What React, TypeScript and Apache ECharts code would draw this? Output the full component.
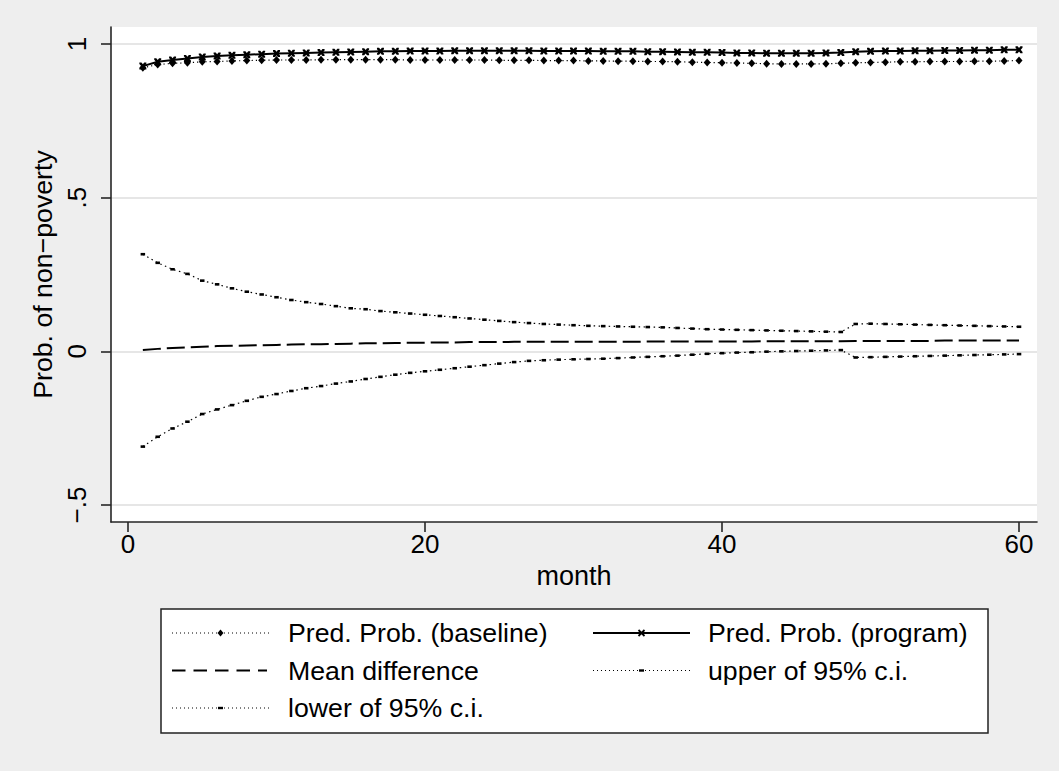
import React, { useEffect, useRef } from "react";
import * as echarts from "echarts";

const months = [
  1, 2, 3, 4, 5, 6, 7, 8, 9, 10, 11, 12, 13, 14, 15, 16, 17, 18, 19, 20,
  21, 22, 23, 24, 25, 26, 27, 28, 29, 30, 31, 32, 33, 34, 35, 36, 37, 38, 39, 40,
  41, 42, 43, 44, 45, 46, 47, 48, 49, 50, 51, 52, 53, 54, 55, 56, 57, 58, 59, 60,
];

const baseline = [
  0.923, 0.933, 0.937, 0.939, 0.942, 0.943, 0.945, 0.946, 0.947, 0.948,
  0.948, 0.948, 0.949, 0.949, 0.949, 0.949, 0.949, 0.949, 0.948, 0.948,
  0.948, 0.948, 0.948, 0.948, 0.947, 0.947, 0.947, 0.946, 0.946, 0.946,
  0.945, 0.945, 0.944, 0.944, 0.943, 0.943, 0.942, 0.941, 0.94, 0.939,
  0.938, 0.937, 0.936, 0.935, 0.935, 0.935, 0.936, 0.937, 0.939, 0.94,
  0.941, 0.942, 0.942, 0.943, 0.943, 0.943, 0.944, 0.944, 0.945, 0.946,
];

const program = [
  0.928, 0.942, 0.948, 0.953, 0.958, 0.961, 0.963, 0.965, 0.967, 0.969,
  0.97, 0.971, 0.972, 0.973, 0.974, 0.975, 0.976, 0.976, 0.977, 0.977,
  0.977, 0.978, 0.978, 0.978, 0.978, 0.978, 0.978, 0.977, 0.977, 0.977,
  0.977, 0.976, 0.976, 0.976, 0.975, 0.975, 0.974, 0.973, 0.973, 0.972,
  0.971, 0.971, 0.97, 0.97, 0.97, 0.97, 0.971, 0.972, 0.975, 0.976,
  0.977, 0.977, 0.978, 0.978, 0.979, 0.979, 0.98, 0.98, 0.981, 0.981,
];

const meanDiff = [
  0.004, 0.008, 0.011, 0.013, 0.015, 0.017, 0.018, 0.019, 0.02, 0.021,
  0.022, 0.023, 0.023, 0.024, 0.025, 0.026, 0.026, 0.027, 0.028, 0.028,
  0.029, 0.029, 0.03, 0.03, 0.03, 0.031, 0.031, 0.031, 0.031, 0.031,
  0.031, 0.031, 0.031, 0.031, 0.032, 0.032, 0.032, 0.032, 0.032, 0.032,
  0.032, 0.032, 0.033, 0.033, 0.033, 0.033, 0.033, 0.033, 0.034, 0.034,
  0.034, 0.034, 0.034, 0.034, 0.035, 0.035, 0.035, 0.035, 0.035, 0.035,
];

const upperCI = [
  0.316, 0.288, 0.267, 0.252, 0.23, 0.218, 0.205, 0.194, 0.185, 0.176,
  0.167, 0.16, 0.154, 0.147, 0.14, 0.137, 0.131, 0.127, 0.123, 0.119,
  0.115, 0.111, 0.107, 0.103, 0.099, 0.095, 0.092, 0.089, 0.087, 0.085,
  0.083, 0.082, 0.081, 0.08, 0.079, 0.078, 0.076, 0.074, 0.072, 0.071,
  0.07, 0.069, 0.068, 0.067, 0.066, 0.065, 0.064, 0.063, 0.089, 0.09,
  0.089, 0.088, 0.087, 0.086, 0.085, 0.084, 0.083, 0.082, 0.081, 0.08,
];

const lowerCI = [
  -0.31, -0.278, -0.251, -0.229, -0.204, -0.189, -0.175, -0.161, -0.148, -0.139,
  -0.129, -0.12, -0.113, -0.105, -0.098, -0.09, -0.083, -0.076, -0.07, -0.065,
  -0.06, -0.055, -0.05, -0.045, -0.04, -0.035, -0.031, -0.029, -0.027, -0.026,
  -0.025, -0.024, -0.022, -0.02, -0.018, -0.016, -0.014, -0.011, -0.008, -0.006,
  -0.004, -0.003, -0.001, 0.0, 0.001, 0.002, 0.003, 0.004, -0.02, -0.019,
  -0.018, -0.017, -0.016, -0.015, -0.014, -0.013, -0.012, -0.011, -0.01, -0.009,
];

const yTicks = [-0.5, 0, 0.5, 1];
const xTicks = [0, 20, 40, 60];
const seriesNames = [
  "Pred. Prob. (baseline)",
  "Pred. Prob. (program)",
  "Mean difference",
  "upper of 95% c.i.",
  "lower of 95% c.i.",
];

const FONT = "'Liberation Sans', Arial, Helvetica, sans-serif";
const X_SYMBOL =
  "path://M0,0L3,0L5,2.5L7,0L10,0L10,2L7.5,5L10,8L10,10L7,10L5,7.5L3,10L0,10L0,8L2.5,5L0,2Z";

const pairs = (vals: number[]) => months.map((m, i) => [m, vals[i]]);

function yLabel(v: number): string {
  if (v === 0) return "0";
  const s = String(Math.abs(v)).replace(/^0\./, ".");
  return (v < 0 ? "\u2212" : "") + s;
}

export default function App() {
  const ref = useRef<HTMLDivElement>(null);

  useEffect(() => {
    document.body.style.margin = "0";
    if (!ref.current) return;
    const chart = echarts.init(ref.current, undefined, { renderer: "svg" });

    const legendRows = [633, 670.5, 708];
    const lx1 = [172, 593];
    const lw = 97;
    const tx = [288, 708];
    const legendText = (t: string, x: number, y: number) => ({
      type: "text",
      x,
      y,
      style: {
        text: t,
        fontSize: 26.7,
        fontFamily: FONT,
        fill: "#000",
        verticalAlign: "middle",
        textVerticalAlign: "middle",
      },
    });
    const dotLine = (x: number, y: number) => ({
      type: "line",
      shape: { x1: x, y1: y, x2: x + lw, y2: y },
      style: { stroke: "#000", lineWidth: 1, lineDash: [1, 3] },
    });

    const graphic: any[] = [
      {
        type: "rect",
        shape: { x: 161, y: 609, width: 827, height: 124 },
        style: { fill: "#fff", stroke: "#222", lineWidth: 1.5 },
      },
      // baseline
      dotLine(lx1[0], legendRows[0]),
      {
        type: "polygon",
        shape: {
          points: [
            [lx1[0] + lw / 2, legendRows[0] - 3.5],
            [lx1[0] + lw / 2 + 3, legendRows[0]],
            [lx1[0] + lw / 2, legendRows[0] + 3.5],
            [lx1[0] + lw / 2 - 3, legendRows[0]],
          ],
        },
        style: { fill: "#000" },
      },
      legendText(seriesNames[0], tx[0], legendRows[0]),
      // program
      {
        type: "line",
        shape: { x1: lx1[1], y1: legendRows[0], x2: lx1[1] + lw, y2: legendRows[0] },
        style: { stroke: "#000", lineWidth: 2 },
      },
      {
        type: "line",
        shape: {
          x1: lx1[1] + lw / 2 - 3,
          y1: legendRows[0] - 3,
          x2: lx1[1] + lw / 2 + 3,
          y2: legendRows[0] + 3,
        },
        style: { stroke: "#000", lineWidth: 1.8 },
      },
      {
        type: "line",
        shape: {
          x1: lx1[1] + lw / 2 - 3,
          y1: legendRows[0] + 3,
          x2: lx1[1] + lw / 2 + 3,
          y2: legendRows[0] - 3,
        },
        style: { stroke: "#000", lineWidth: 1.8 },
      },
      legendText(seriesNames[1], tx[1], legendRows[0]),
      // mean diff
      {
        type: "line",
        shape: { x1: lx1[0], y1: legendRows[1], x2: lx1[0] + lw - 2, y2: legendRows[1] },
        style: { stroke: "#000", lineWidth: 2, lineDash: [13.5, 8] },
      },
      legendText(seriesNames[2], tx[0], legendRows[1]),
      // upper
      dotLine(lx1[1], legendRows[1]),
      {
        type: "rect",
        shape: { x: lx1[1] + lw / 2 - 2.5, y: legendRows[1] - 1.2, width: 5, height: 2.4 },
        style: { fill: "#000" },
      },
      legendText(seriesNames[3], tx[1], legendRows[1]),
      // lower
      dotLine(lx1[0], legendRows[2]),
      {
        type: "rect",
        shape: { x: lx1[0] + lw / 2 - 2.5, y: legendRows[2] - 1.2, width: 5, height: 2.4 },
        style: { fill: "#000" },
      },
      legendText(seriesNames[4], tx[0], legendRows[2]),
    ];

    const axisColor = "#262626";

    chart.setOption({
      animation: false,
      backgroundColor: "#eeeeee",
      textStyle: { fontFamily: FONT },
      grid: {
        left: 111,
        right: 22,
        top: 27,
        bottom: 249,
        show: true,
        backgroundColor: "#ffffff",
        borderWidth: 0,
        containLabel: false,
      },
      xAxis: {
        type: "value",
        min: -1.145,
        max: 61.21,
        name: "month",
        nameLocation: "middle",
        nameGap: 40,
        nameTextStyle: { fontSize: 27, color: "#000", fontFamily: FONT },
        axisLine: { show: true, onZero: false, lineStyle: { color: axisColor, width: 1.6 } },
        axisTick: {
          show: true,
          length: 10,
          customValues: xTicks,
          lineStyle: { color: axisColor, width: 1.6 },
        },
        axisLabel: {
          customValues: xTicks,
          fontSize: 26,
          color: "#000",
          margin: 9,
          fontFamily: FONT,
        },
        splitLine: { show: false },
      },
      yAxis: {
        type: "value",
        min: -0.5553,
        max: 1.0553,
        name: "Prob. of non\u2212poverty",
        nameLocation: "middle",
        nameGap: 51,
        nameRotate: 90,
        nameTextStyle: { fontSize: 26.7, color: "#000", fontFamily: FONT },
        axisLine: { show: true, onZero: false, lineStyle: { color: axisColor, width: 1.6 } },
        axisTick: {
          show: true,
          length: 10,
          customValues: yTicks,
          lineStyle: { color: axisColor, width: 1.6 },
        },
        axisLabel: {
          customValues: yTicks,
          rotate: 90,
          fontSize: 26,
          color: "#000",
          margin: 21,
          fontFamily: FONT,
          formatter: (v: number) => yLabel(v),
        },
        splitLine: { show: true, lineStyle: { color: "#e6e6e6", width: 1.8 } },
      },
      graphic,
      series: [
        {
          name: seriesNames[3],
          type: "line",
          data: pairs(upperCI),
          z: 2,
          symbol: "rect",
          symbolSize: [4.5, 2.6],
          itemStyle: { color: "#000" },
          lineStyle: { color: "#000", width: 1.2, type: [1.5, 3.5] },
        },
        {
          name: seriesNames[4],
          type: "line",
          data: pairs(lowerCI),
          z: 2,
          symbol: "rect",
          symbolSize: [4.5, 2.6],
          itemStyle: { color: "#000" },
          lineStyle: { color: "#000", width: 1.2, type: [1.5, 3.5] },
        },
        {
          name: seriesNames[2],
          type: "line",
          data: pairs(meanDiff),
          z: 3,
          symbol: "none",
          lineStyle: { color: "#000", width: 2, type: [18, 6] },
        },
        {
          name: seriesNames[0],
          type: "line",
          data: pairs(baseline),
          z: 4,
          symbol: "diamond",
          symbolSize: [7, 8],
          itemStyle: { color: "#000" },
          lineStyle: { color: "#000", width: 1.2, type: [1.2, 3] },
        },
        {
          name: seriesNames[1],
          type: "line",
          data: pairs(program),
          z: 5,
          symbol: X_SYMBOL,
          symbolSize: 7,
          itemStyle: { color: "#000" },
          lineStyle: { color: "#000", width: 2 },
        },
      ],
    });

    return () => chart.dispose();
  }, []);

  return <div ref={ref} style={{ width: 1059, height: 771 }} />;
}
